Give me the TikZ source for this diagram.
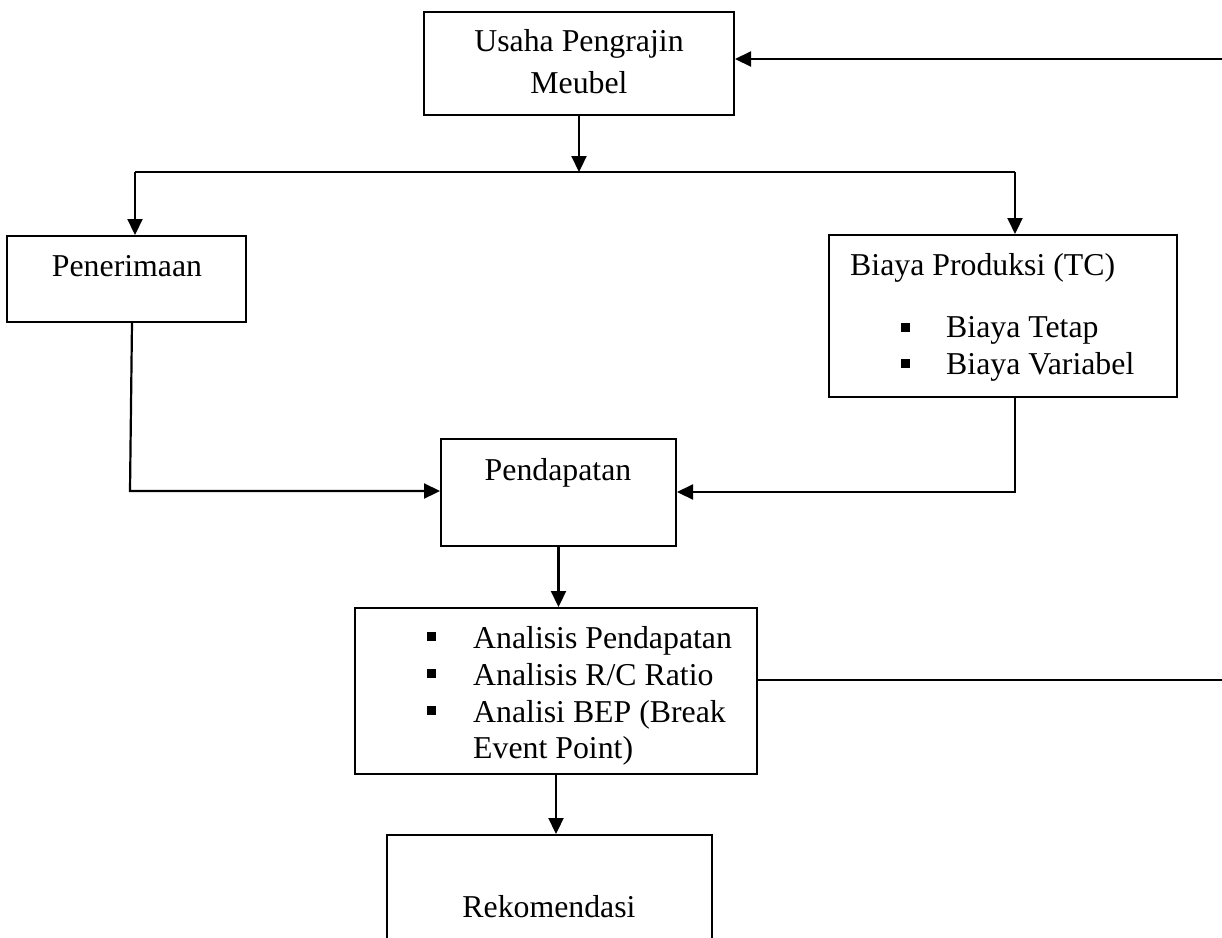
\documentclass[tikz,border=0pt]{standalone}
\usepackage{fontspec}
\setmainfont{Liberation Serif}
\usetikzlibrary{arrows.meta}
\begin{document}
\begin{tikzpicture}[x=1pt,y=-1pt,
  box/.style={draw, line width=2pt, rectangle, inner sep=0pt},
  lbl/.style={inner sep=0pt, font=\fontsize{31.8}{37}\selectfont},
  blt/.style={fill, rectangle, inner sep=0pt, minimum size=9pt},
  conn/.style={line width=2.2pt},
  arr/.style={conn, -{Triangle[length=16pt,width=15pt]}}]
\useasboundingbox (0,0) rectangle (1222,937);
\clip (0,0) rectangle (1222,937);

% boxes
\node[box, minimum width=310pt, minimum height=103pt] (usaha) at (579,63.5) {};
\node[box, minimum width=239pt, minimum height=86pt] (pen) at (126.5,279) {};
\node[box, minimum width=348pt, minimum height=162pt] (biaya) at (1003,316) {};
\node[box, minimum width=235pt, minimum height=107pt] (pend) at (558.5,492.5) {};
\node[box, minimum width=402pt, minimum height=166pt] (anal) at (556,691) {};
\node[box, minimum width=325pt, minimum height=155pt] (rek) at (549.5,912.5) {};

% texts
\node[lbl, anchor=base] (t1) at (579,51) {Usaha Pengrajin};
\node[lbl, anchor=base] (t2) at (579,93) {Meubel};
\node[lbl, anchor=base] (t3) at (127,276) {Penerimaan};
\node[lbl, anchor=base west] (t4) at (850,275) {Biaya Produksi (TC)};
\node[blt] (b1) at (905,327) {};
\node[lbl, anchor=base west] (t5) at (946,337) {Biaya Tetap};
\node[blt] (b2) at (905,363) {};
\node[lbl, anchor=base west] (t6) at (946,374) {Biaya Variabel};
\node[lbl, anchor=base] (t7) at (558,480) {Pendapatan};
\node[blt] (b3) at (431,636) {};
\node[lbl, anchor=base west] (t8) at (473,648) {Analisis Pendapatan};
\node[blt] (b4) at (431,673) {};
\node[lbl, anchor=base west] (t9) at (473,685) {Analisis R/C Ratio};
\node[blt] (b5) at (431,710) {};
\node[lbl, anchor=base west] (t10) at (473,722) {Analisi BEP (Break};
\node[lbl, anchor=base west] (t11) at (473,758) {Event Point)};
\node[lbl, anchor=base] (t12) at (549,917) {Rekomendasi};

% coordinates
\coordinate (fbB) at (1222,59);
\coordinate (fbA) at (1222,680);
\coordinate (split) at (579,172);
\coordinate (splitL) at (135,172);
\coordinate (splitR) at (1015,172);
\coordinate (penTop) at (132,322);
\coordinate (penC) at (130,491);
\coordinate (biC) at (1015,492);

% connectors
\draw[arr] (fbB) -- (usaha.east |- fbB);
\draw[arr] (usaha.south) -- (split);
\draw[conn] (splitL) -- (splitR);
\draw[arr] (splitL) -- (splitL |- pen.north);
\draw[arr] (splitR) -- (splitR |- biaya.north);
\draw[arr] (penTop) -- (penC) -- (penC -| pend.west);
\draw[arr] (biaya.south -| biC) -- (biC) -- (biC -| pend.east);
\draw[arr] (pend.south) -- (pend.south |- anal.north);
\draw[arr] (anal.south) -- (anal.south |- rek.north);
\draw[conn] (anal.east |- fbA) -- (fbA);
\end{tikzpicture}
\end{document}
